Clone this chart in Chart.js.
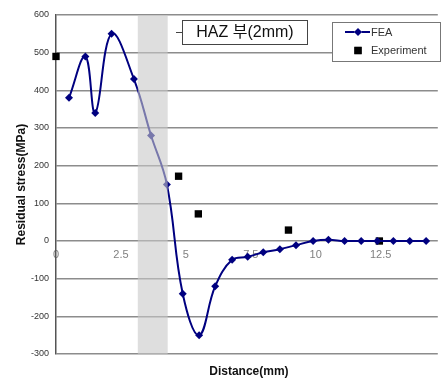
<!DOCTYPE html>
<html>
<head>
<meta charset="utf-8">
<script src="https://cdn.jsdelivr.net/npm/chart.js@4"></script>
<style>
  html, body { margin: 0; padding: 0; background: #fff; }
  #wrap { width: 443px; height: 380px; }
</style>
</head>
<body>
<div id="wrap"><canvas id="stressChart"></canvas></div>
<script>
/* ================= Data ================= */

const feaX = [0.5, 1.13, 1.51, 2.14, 3.0, 3.66, 4.27, 4.88, 5.51, 6.13, 6.78, 7.38, 7.98, 8.62, 9.24, 9.9, 10.49, 11.11, 11.75, 12.37, 12.99, 13.62, 14.25];
const feaY = [380, 490, 340, 550, 430, 280, 150, -140, -250, -120, -50, -42, -30, -22, -11, 0, 3, 0, 0, 0, 0, 0, 0];
const expX = [0, 4.72, 5.48, 8.95, 12.45];
const expY = [490, 172, 72, 29, 0];
const xTicks = [0, 2.5, 5, 7.5, 10, 12.5];
const yTicks = [-300, -200, -100, 0, 100, 200, 300, 400, 500, 600];
const hazBand = [3.15, 4.3];
const hazLabel = "HAZ 부(2mm)";

/* ================= Overlay plugin ================= */

const overlay = {
  id: "overlay",
  afterDatasetsDraw(chart) {
    const { ctx, chartArea, scales } = chart;
    const x0 = scales.x.getPixelForValue(hazBand[0]);
    const x1 = scales.x.getPixelForValue(hazBand[1]);
    ctx.save();
    // shaded HAZ band on top of the curve
    ctx.fillStyle = "rgba(200,200,200,0.6)";
    ctx.fillRect(x0, chartArea.top, x1 - x0, chartArea.bottom - chartArea.top);

    // HAZ label box
    ctx.strokeStyle = "#444";
    ctx.lineWidth = 1;
    ctx.beginPath();
    ctx.moveTo(176, 32.5);
    ctx.lineTo(182, 32.5);
    ctx.stroke();
    ctx.fillStyle = "#fff";
    ctx.fillRect(182.5, 20.5, 125, 24);
    ctx.strokeRect(182.5, 20.5, 125, 24);
    ctx.fillStyle = "#111";
    ctx.font = "16px 'Liberation Sans', 'Noto Sans CJK KR', sans-serif";
    ctx.textAlign = "center";
    ctx.textBaseline = "middle";
    ctx.fillText(hazLabel, 245, 33);

    // legend
    ctx.fillStyle = "#fff";
    ctx.strokeStyle = "#777";
    ctx.fillRect(332.5, 22.5, 108, 39);
    ctx.strokeRect(332.5, 22.5, 108, 39);
    ctx.font = "11px 'Liberation Sans', sans-serif";
    ctx.textAlign = "left";
    chart.data.datasets.forEach((ds, i) => {
      const y = 32 + i * 18.5;
      if (ds.showLine) {
        ctx.strokeStyle = ds.borderColor;
        ctx.lineWidth = 2;
        ctx.beginPath();
        ctx.moveTo(345, y);
        ctx.lineTo(370, y);
        ctx.stroke();
      }
      Chart.helpers.drawPoint(ctx, {
        pointStyle: ds.pointStyle,
        radius: ds.pointRadius,
        borderWidth: 0
      }, 358, y);
      ctx.fillStyle = ds.pointBackgroundColor;
      ctx.fill();
      ctx.fillStyle = "#333";
      ctx.fillText(ds.label, 371, y + 0.5);
    });

    // axis titles
    ctx.fillStyle = "#111";
    ctx.font = "bold 12px 'Liberation Sans', sans-serif";
    ctx.textAlign = "center";
    ctx.fillText("Distance(mm)", (chartArea.left + chartArea.right) / 2 + 2, 372);
    ctx.translate(22, (chartArea.top + chartArea.bottom) / 2);
    ctx.rotate(-Math.PI / 2);
    ctx.fillText("Residual stress(MPa)", 0, 0);
    ctx.restore();
  }
};

/* ================= Chart ================= */

const ctx = document.getElementById("stressChart");

new Chart(ctx, {
  type: "scatter",
  data: {
    datasets: [
      {
        label: "FEA",
        data: feaX.map((x, i) => ({ x: x, y: feaY[i] })),
        showLine: true,
        tension: 0.4,
        borderColor: "#000080",
        borderWidth: 2,
        pointStyle: "rectRot",
        pointRadius: 4,
        pointBackgroundColor: "#000080",
        pointBorderWidth: 0
      },
      {
        label: "Experiment",
        data: expX.map((x, i) => ({ x: x, y: expY[i] })),
        showLine: false,
        clip: false,
        pointStyle: "rect",
        pointRadius: 5.2,
        pointBackgroundColor: "#000",
        pointBorderWidth: 0
      }
    ]
  },
  options: {
    responsive: true,
    maintainAspectRatio: false,
    animation: false,
    layout: { padding: { top: 15, bottom: 26, left: 0, right: 0 } },
    plugins: {
      legend: { display: false },
      tooltip: { enabled: false }
    },
    scales: {
      x: {
        type: "linear",
        position: { y: 0 },
        min: 0,
        max: 14.7,
        afterBuildTicks: (s) => { s.ticks = xTicks.map((v) => ({ value: v })); },
        afterFit: (s) => { s.height = 0; },
        grid: { display: false, drawTicks: false },
        border: { display: false },
        ticks: {
          padding: 7,
          color: "#808080",
          font: { family: "'Liberation Sans', sans-serif", size: 11 },
          maxRotation: 0
        }
      },
      y: {
        min: -300,
        max: 600,
        afterBuildTicks: (s) => { s.ticks = yTicks.map((v) => ({ value: v })); },
        afterFit: (s) => { s.width = 56; },
        grid: { color: "#8c8c8c", lineWidth: 1.5, drawTicks: false },
        border: { color: "#555", width: 1.5 },
        ticks: {
          padding: 7,
          color: "#333",
          font: { family: "'Liberation Sans', sans-serif", size: 9 }
        }
      }
    }
  },
  plugins: [overlay]
});
</script>
</body>
</html>
